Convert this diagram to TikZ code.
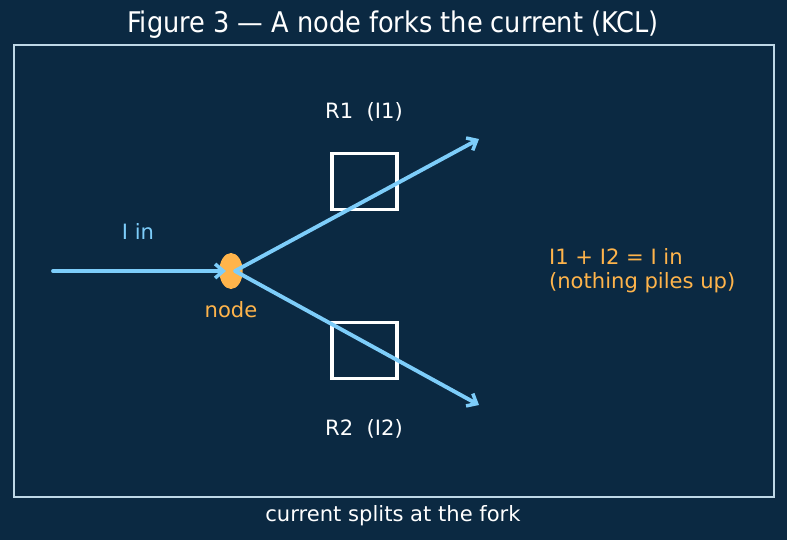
\documentclass[tikz,border=0pt]{standalone}
\usepackage{fontspec}
\setmainfont{DejaVu Sans}
\newfontfamily\titlefont{DejaVu Sans Condensed}
\usetikzlibrary{arrows.meta,shapes.geometric}
\definecolor{bgnavy}{RGB}{11,41,66}
\definecolor{framegray}{RGB}{190,215,230}
\definecolor{wireblue}{RGB}{125,205,250}
\definecolor{forkorange}{RGB}{255,180,75}
\tikzset{
  wire/.style={wireblue, line width=3.3pt, line cap=round,
    -{Straight Barb[length=7pt,width=12pt,line width=3pt]}},
  resbox/.style={draw=white, line width=2.8pt, minimum width=1.95cm, minimum height=1.7cm, inner sep=0pt},
  lbl/.style={font=\fontsize{18}{20.5}\selectfont}
}
\begin{document}
\begin{tikzpicture}[x=0.03cm,y=-0.03cm]
			\fill[bgnavy] (0,0) rectangle (787,540);
			\useasboundingbox (0,0) rectangle (787,540);
			\draw[framegray, line width=1.5pt] (14,45) rectangle (774,497);
			\node[white, font=\titlefont\fontsize{24.3}{27}\selectfont] (title) at (393,25) {Figure 3 — A node forks the current (KCL)};
			\node[white, lbl] (caption) at (393,516) {current splits at the fork};
			% the two resistors
			\node[resbox] (r1) at (364.5,181.5) {};
			\node[resbox] (r2) at (364.5,350.5) {};
			\node[white, lbl] (r1lbl) at (364,112) {R1\ \ (I1)};
			\node[white, lbl] (r2lbl) at (364,429) {R2\ \ (I2)};
			% the fork
			\node[ellipse, fill=forkorange, minimum width=0.7cm, minimum height=1.08cm, inner sep=0pt] (fork) at (231,271) {};
			\coordinate (src) at (53,271);
			\coordinate (out1) at (479,139);
			\coordinate (out2) at (479,405);
			\draw[wire] (src) -- ([xshift=-0.15cm]fork.center);
			\draw[wire] ([xshift=0.12cm]fork.center) -- (out1);
			\draw[wire] ([xshift=0.12cm]fork.center) -- (out2);
			\node[wireblue, lbl] (inlbl) at (138,231) {I in};
			\node[forkorange, lbl] (forklbl) at (231,310) {node};
			\node[forkorange, lbl, align=left, anchor=west] (kcl) at (545,271) {I1 + I2 = I in\\(nothing piles up)};
		\end{tikzpicture}
\end{document}
